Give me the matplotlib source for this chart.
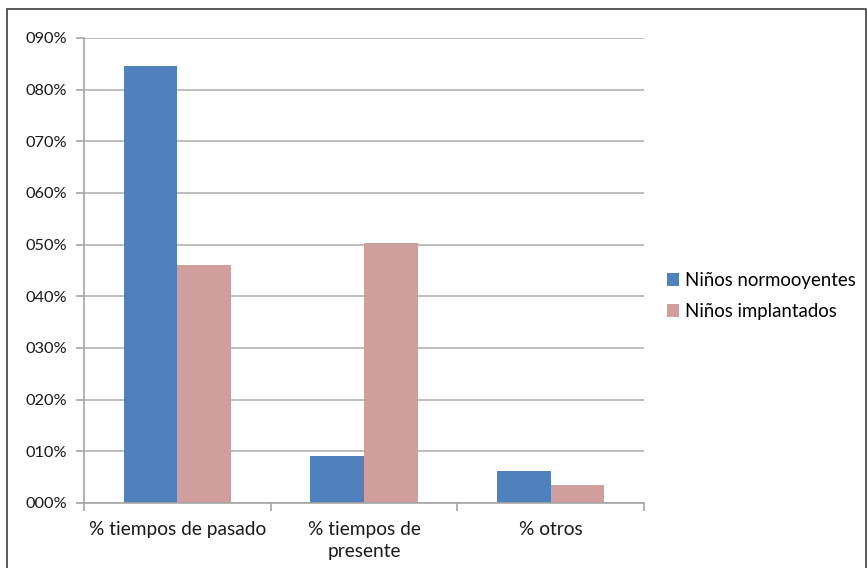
import numpy as np
import matplotlib.pyplot as plt
from matplotlib.patches import Rectangle
from matplotlib.ticker import FuncFormatter, FixedLocator

categorias = ['% tiempos de pasado', '% tiempos de\npresente', '% otros']
normooyentes = [0.846, 0.091, 0.062]
implantados = [0.461, 0.503, 0.035]
series = ['Niños normooyentes', 'Niños implantados']
colores = ['#4F81BD', '#D09F9D']

plt.rcParams['font.family'] = ['Lato', 'DejaVu Sans']

fig = plt.figure(figsize=(8.67, 5.68), dpi=100)
ax = fig.add_axes([84 / 867, 1 - 503 / 568, 560 / 867, 465 / 568])

x = np.arange(len(categorias))
w = 0.287
ax.bar(x - w / 2, normooyentes, w, color=colores[0], label=series[0], zorder=3)
ax.bar(x + w / 2, implantados, w, color=colores[1], label=series[1], zorder=3)

ax.set_xlim(-0.5, len(categorias) - 0.5)
ax.set_ylim(0, 0.9)
ax.set_yticks(np.arange(0, 0.91, 0.1))
ax.yaxis.set_major_formatter(FuncFormatter(lambda v, p: '%03d%%' % round(v * 100)))
ax.grid(axis='y', color='#B3B3B3', lw=1.2, zorder=0)

# category labels centred, ticks at the group boundaries
ax.set_xticks(x)
ax.set_xticklabels(categorias, fontsize=13.8, color='#1a1a1a', linespacing=1.35)
ax.tick_params(axis='x', length=0, pad=13)
ax.xaxis.set_minor_locator(FixedLocator(np.arange(-0.5, len(categorias), 1.0)))
ax.tick_params(axis='x', which='minor', length=6, color='#A6A6A6', width=1.2)
ax.tick_params(axis='y', length=6, color='#A6A6A6', width=1.2, labelsize=11.8,
               labelcolor='#1a1a1a', pad=6)

for s in ['top', 'right']:
    ax.spines[s].set_visible(False)
for s in ['left', 'bottom']:
    ax.spines[s].set_color('#A6A6A6')
    ax.spines[s].set_linewidth(1.2)
    ax.spines[s].set_zorder(4)

ax.legend(loc='center left', bbox_to_anchor=(650 / 867, 1 - 296 / 568),
          bbox_transform=fig.transFigure, frameon=False, fontsize=13.4,
          handlelength=0.65, handleheight=0.65, handletextpad=0.35, labelspacing=0.75)

fig.patches.append(Rectangle((7 / 867, -0.05), 858.5 / 867, 1.05 - 9 / 568,
                             transform=fig.transFigure, fill=False,
                             edgecolor='#404040', lw=1.2))

fig.savefig('out.png', dpi=100)
